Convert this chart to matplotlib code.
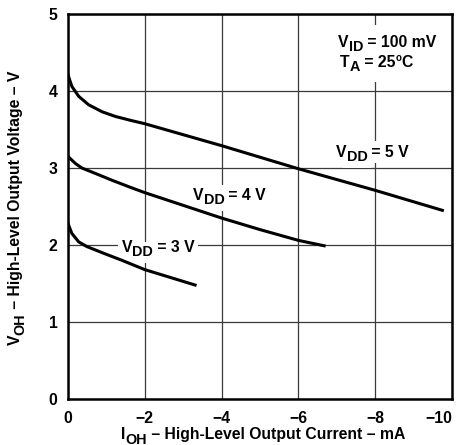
import matplotlib
matplotlib.use('Agg')
import matplotlib.pyplot as plt
from matplotlib.patches import Rectangle
from matplotlib.transforms import offset_copy

plt.rcParams['font.family'] = 'Liberation Sans'
plt.rcParams['font.weight'] = 'bold'

# output current (mA) vs output voltage (V)
i_5v = [0, -0.1, -0.28, -0.54, -0.89, -1.23, -1.62, -2, -4, -6, -8, -9.75]
v_5v = [4.21, 4.06, 3.93, 3.82, 3.73, 3.67, 3.62, 3.575, 3.29, 2.99, 2.71, 2.45]
i_4v = [0, -0.19, -0.36, -0.71, -1.15, -1.62, -2, -4, -5, -6, -6.67]
v_4v = [3.15, 3.06, 3.00, 2.93, 2.84, 2.75, 2.68, 2.35, 2.20, 2.06, 1.99]
i_3v = [0, -0.1, -0.28, -0.49, -0.89, -1.41, -2, -3.31]
v_3v = [2.28, 2.15, 2.04, 1.98, 1.90, 1.80, 1.68, 1.48]

x_ticks = [0, -2, -4, -6, -8, -10]
x_ticklabels = ['0', '\u22122', '\u22124', '\u22126', '\u22128', '\u221210']
y_ticks = [0, 1, 2, 3, 4, 5]

FS = 11.3

fig = plt.figure(figsize=(4.61, 4.45), dpi=100)
ax = fig.add_axes([68 / 461, 46 / 445, 384 / 461, 385 / 445])


def rich_text(x, y, pieces, transform, size=FS, rotation=0, ha='left', box=False):
    """Text with full-size subscripts / small superscripts, built piece by piece"""
    renderer = fig.canvas.get_renderer()
    scale = {'n': 1.0, 'sub': 0.92, 'sup': 0.62}
    shift = {'n': 0, 'sub': -4.5, 'sup': 5.5}
    made = []
    for s, kind in pieces:
        kw = dict(fontsize=size * scale[kind], fontweight='bold', ha='left',
                  va='baseline', rotation_mode='anchor', clip_on=False)
        t = ax.text(0, 0, s, zorder=5, **kw)
        group = [t]
        if box:
            # white copy under the curves, over the grid
            group.append(ax.text(0, 0, s, color='white', zorder=2.6,
                                 bbox=dict(facecolor='white', edgecolor='none', pad=2.5), **kw))
        made.append((group, kind, t.get_window_extent(renderer).width))
    total = sum(w for _, _, w in made)
    pos = -total / 2 if ha == 'center' else 0
    for group, kind, w in made:
        if rotation == 90:
            dx, dy = -shift[kind], pos
        else:
            dx, dy = pos, shift[kind]
        for t in group:
            t.set_transform(offset_copy(transform, fig=fig, x=dx, y=dy, units='dots'))
            t.set_position((x, y))
            t.set_rotation(rotation)
        pos += w


ax.plot(i_5v, v_5v, color='black', lw=2.2, zorder=3)
ax.plot(i_4v, v_4v, color='black', lw=2.2, zorder=3)
ax.plot(i_3v, v_3v, color='black', lw=2.2, zorder=3)

ax.set_xlim(0, -10)
ax.set_ylim(0, 5)
ax.set_xticks(x_ticks)
ax.set_xticklabels(x_ticklabels)
ax.set_yticks(y_ticks)
ax.tick_params(length=0, labelsize=FS)
ax.tick_params(axis='x', pad=8.5)
ax.tick_params(axis='y', pad=7.5)
ax.get_xticklabels()[-1].set_horizontalalignment('right')
ax.grid(True, color='#3a3a3a', lw=0.9)
for s in ax.spines.values():
    s.set_linewidth(1.8)

# white patch behind the test conditions
ax.add_patch(Rectangle((-6.9, 4.12), -2.75, 0.74, facecolor='white', edgecolor='none', zorder=2))

rich_text(-6.98, 3.147, [('V', 'n'), ('DD', 'sub'), (' = 5 V', 'n')], ax.transData, box=True)
rich_text(-3.26, 2.585, [('V', 'n'), ('DD', 'sub'), (' = 4 V', 'n')], ax.transData, box=True)
rich_text(-1.40, 1.913, [('V', 'n'), ('DD', 'sub'), (' = 3 V', 'n')], ax.transData, box=True)
rich_text(-7.04, 4.576, [('V', 'n'), ('ID', 'sub'), (' = 100 mV', 'n')], ax.transData)
rich_text(-7.08, 4.316, [('T', 'n'), ('A', 'sub'), (' = 25', 'n'), ('o', 'sup'), ('C', 'n')], ax.transData)

rich_text(263 / 461, 6 / 445,
          [('I', 'n'), ('OH', 'sub'), (' \u2013 High-Level Output Current \u2013 mA', 'n')],
          fig.transFigure, ha='center')
rich_text(20 / 461, (445 - 208) / 445,
          [('V', 'n'), ('OH', 'sub'), (' \u2013 High-Level Output Voltage \u2013 V', 'n')],
          fig.transFigure, ha='center', rotation=90)

plt.savefig('out.png', dpi=100)
